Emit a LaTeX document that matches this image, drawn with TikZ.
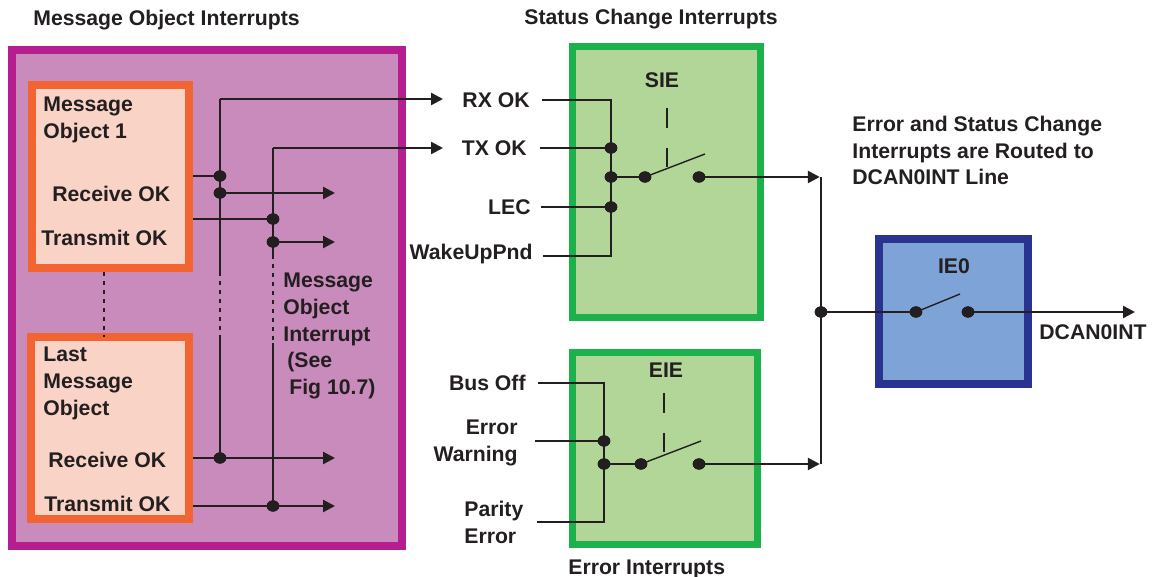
\documentclass[tikz,border=0pt]{standalone}
\usepackage{fontspec}
\setmainfont{Liberation Sans}
\usetikzlibrary{arrows.meta,shapes.geometric}
\definecolor{ink}{HTML}{231F20}
\definecolor{purpleB}{HTML}{B41E8E}
\definecolor{purpleF}{HTML}{C98BBC}
\definecolor{orangeB}{HTML}{F26532}
\definecolor{orangeF}{HTML}{F8D3C6}
\definecolor{greenB}{HTML}{1BB14B}
\definecolor{greenF}{HTML}{B2D698}
\definecolor{blueB}{HTML}{2B3390}
\definecolor{blueF}{HTML}{7EA4D7}
\tikzset{
  lbl/.style={font=\fontsize{10.6}{13.3}\selectfont\bfseries, inner sep=0pt, text=ink},
  one/.style={lbl, text depth=0pt},
  box/.style={rectangle, inner sep=0pt},
  wire/.style={draw=ink, line width=1.25pt},
  arr/.style={wire, -{Triangle[length=6pt,width=6pt]}},
  dashline/.style={draw=ink, line width=1.2pt, dash pattern=on 2pt off 2.5pt},
  leverline/.style={draw=ink, line width=0.7pt},
  enadash/.style={draw=ink, line width=1.1pt, dash pattern=on 10pt off 10pt},
  dot/.style={ellipse, fill=ink, inner sep=0pt, minimum width=6.3pt, minimum height=5.6pt}
}
\begin{document}
\begin{tikzpicture}[x=0.5pt,y=-0.5pt]
\useasboundingbox (0,0) rectangle (1153,577);

% ---------- boxes ----------
\node[box, draw=purpleB, fill=purpleF, line width=4pt, outer sep=2pt,
      minimum width=195pt, minimum height=248pt] (mo) at (207,298) {};
\node[box, draw=orangeB, fill=orangeF, line width=4pt, outer sep=2pt,
      minimum width=78.5pt, minimum height=91.5pt] (mo1) at (110.5,176.5) {};
\node[box, draw=orangeB, fill=orangeF, line width=4pt, outer sep=2pt,
      minimum width=79pt, minimum height=91pt] (mo2) at (110,428) {};
\node[box, draw=greenB, fill=greenF, line width=3.5pt, outer sep=1.75pt,
      minimum width=94pt, minimum height=135.5pt] (sie) at (666,182.5) {};
\node[box, draw=greenB, fill=greenF, line width=3.5pt, outer sep=1.75pt,
      minimum width=92.5pt, minimum height=96pt] (eie) at (664.5,449) {};
\node[box, draw=blueB, fill=blueF, line width=3.75pt, outer sep=1.9pt,
      minimum width=74.5pt, minimum height=72.5pt] (ie0) at (953.5,311.5) {};

% ---------- titles ----------
\node[one, anchor=west] (tmo) at (33,18) {Message Object Interrupts};
\node[one, anchor=west] (tsc) at (524,17) {Status Change Interrupts};
\node[one, anchor=west] (tei) at (568,567) {Error Interrupts};
\node[lbl, anchor=north west, align=left] (troute) at (852,116)
  {Error and Status Change\\Interrupts are Routed to\\DCAN0INT Line};

% ---------- message object texts ----------
\node[lbl, anchor=north west, align=left] (mo1t) at (43,97) {Message\\Object 1};
\node[one, anchor=west] (rok1) at (52,194) {Receive OK};
\node[one, anchor=west] (tok1) at (41,238) {Transmit OK};
\node[lbl, anchor=north west, align=left] (mo2t) at (43,347) {Last\\Message\\Object};
\node[one, anchor=west] (rok2) at (48,460) {Receive OK};
\node[one, anchor=west] (tok2) at (44,504) {Transmit OK};
\node[lbl, anchor=north west, align=left] (moint) at (283,273)
  {Message\\Object\\Interrupt\\\hspace*{2pt}(See\\\hspace*{3pt}Fig 10.7)};

% ---------- status inputs ----------
\node[one, anchor=east] (rx) at (530,100) {RX OK};
\node[one, anchor=east] (tx) at (527,148) {TX OK};
\node[one, anchor=east] (lec) at (531,207) {LEC};
\node[lbl, anchor=east] (wk) at (533,254) {WakeUpPnd};
\node[one] (siet) at (662,80) {SIE};

% ---------- error inputs ----------
\node[one, anchor=east] (bus) at (526,383) {Bus Off};
\node[lbl, anchor=north east, align=right] (ew) at (518,420) {Error\\Warning};
\node[lbl, anchor=north west, align=left] (pe) at (464,501) {Parity\\Error};
\node[one] (eiet) at (666,370) {EIE};

% ---------- IE0 ----------
\node[one] (ie0t) at (954,266) {IE0};
\node[one, anchor=west] (dcan) at (1039,332) {DCAN0INT};

% ---------- coordinates ----------
\coordinate (aTop) at (220,99);
\coordinate (aDt) at (220,272);
\coordinate (aDb) at (220,337);
\coordinate (bTop) at (273,148);
\coordinate (bDt) at (273,255);
\coordinate (bDb) at (273,343);
\coordinate (cDt) at (104,272);
\coordinate (cDb) at (104,337);
\coordinate (rxIn) at (443,99);
\coordinate (txIn) at (443,148);
\coordinate (ra2) at (335,193);
\coordinate (rb2) at (335,242);
\coordinate (ra3) at (335,458);
\coordinate (rb3) at (335,506);
\coordinate (sTop) at (611,100);
\coordinate (sBot) at (611,256);
\coordinate (wkL) at (543,256);
\coordinate (sieLev) at (705,154);
\coordinate (sieDa) at (667,108);
\coordinate (sieDb) at (667,167);
\coordinate (eTop) at (604,383);
\coordinate (eBot) at (604,522);
\coordinate (peL) at (537,522);
\coordinate (ewL) at (535,441);
\coordinate (eieLev) at (701,441);
\coordinate (eieDa) at (664,393);
\coordinate (eieDb) at (664,452);
\coordinate (vTop) at (821,177);
\coordinate (vBot) at (821,464);
\coordinate (ieLev) at (960,294);
\coordinate (outTip) at (1135,312);

% ---------- dots ----------
\node[dot] (a1) at (220,176) {};
\node[dot] (a2) at (220,193) {};
\node[dot] (a3) at (220,458) {};
\node[dot] (b1) at (273,219) {};
\node[dot] (b2) at (273,242) {};
\node[dot] (b3) at (273,506) {};
\node[dot] (s1) at (611,148) {};
\node[dot] (s2) at (611,177) {};
\node[dot] (s3) at (611,207) {};
\node[dot] (sw1) at (645,177) {};
\node[dot] (sw2) at (699,177) {};
\node[dot] (e1) at (604,441) {};
\node[dot] (e2) at (604,464) {};
\node[dot] (ew1) at (641,464) {};
\node[dot] (ew2) at (699,464) {};
\node[dot] (j) at (821,312) {};
\node[dot] (iw1) at (916,312) {};
\node[dot] (iw2) at (968,312) {};

% ---------- wires (message objects) ----------
\draw[wire] (aTop) -- (aDt);
\draw[dashline] (aDt) -- (aDb);
\draw[wire] (aDb) -- (a3.center);
\draw[arr] (aTop) -- (rxIn);
\draw[wire] (bTop) -- (bDt);
\draw[dashline] (bDt) -- (bDb);
\draw[wire] (bDb) -- (b3.center);
\draw[arr] (bTop) -- (txIn);
\draw[dashline] (cDt) -- (cDb);
\draw[wire] (mo1.east |- a1) -- (a1.center);
\draw[arr] (a2.center) -- (ra2);
\draw[wire] (mo1.east |- b1) -- (b1.center);
\draw[arr] (b2.center) -- (rb2);
\draw[arr] (mo2.east |- a3) -- (ra3);
\draw[arr] (mo2.east |- b3) -- (rb3);

% ---------- wires (SIE) ----------
\draw[wire] ([xshift=6pt]rx.east) -- (sTop) -- (sBot) -- (wkL);
\draw[wire] ([xshift=6.5pt]tx.east) -- (s1.center);
\draw[wire] ([xshift=5pt]lec.east) -- (s3.center);
\draw[wire] (s2.center) -- (sw1.center);
\draw[leverline] (sw1.center) -- (sieLev);
\draw[enadash] (sieDa) -- (sieDb);
\draw[arr, shorten >=0.6pt] (sw2.center) -- (vTop);

% ---------- wires (EIE) ----------
\draw[wire] ([xshift=6pt]bus.east) -- (eTop) -- (eBot) -- (peL);
\draw[wire] (ewL) -- (e1.center);
\draw[wire] (e2.center) -- (ew1.center);
\draw[leverline] (ew1.center) -- (eieLev);
\draw[enadash] (eieDa) -- (eieDb);
\draw[arr, shorten >=0.6pt] (ew2.center) -- (vBot);

% ---------- IE0 ----------
\draw[wire] (vTop) -- (vBot);
\draw[wire] (j.center) -- (iw1.center);
\draw[leverline] (iw1.center) -- (ieLev);
\draw[arr] (iw2.center) -- (outTip);

% redraw dots on top of the wires
\foreach \d in {a1,a2,a3,b1,b2,b3,s1,s2,s3,sw1,sw2,e1,e2,ew1,ew2,j,iw1,iw2}
  \fill[ink] (\d.center) ellipse (3.15pt and 2.8pt);
\end{tikzpicture}
\end{document}
